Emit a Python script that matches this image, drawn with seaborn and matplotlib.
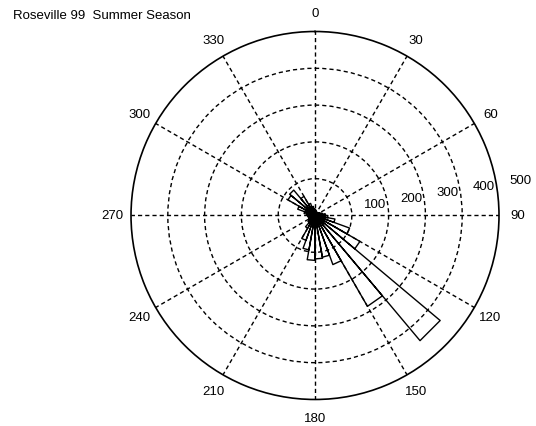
"""
Rose (wind direction) plot for the Roseville 99 summer season,
redrawn in the style of a MATLAB polar/rose figure.
"""

import numpy as np
import pandas as pd
import matplotlib
matplotlib.use('Agg')
import matplotlib.pyplot as plt
import seaborn as sns

# Chart text
title = 'Roseville 99  Summer Season'

# 10 degree direction bins (compass bearing, clockwise from north)
bin_width = 10
bin_starts = list(range(0, 360, bin_width))
counts = [15, 12, 10, 10, 10, 12, 15, 20, 28,
          35, 55, 100, 141, 444, 285, 142, 115, 118,
          122, 95, 72, 40, 25, 20, 18, 18, 20,
          22, 30, 50, 85, 90, 60, 35, 25, 18]

# Grid / tick labels
ring_values = [100, 200, 300, 400, 500]
spoke_angles = list(range(0, 360, 30))


def rose_outline(starts, values, width):
    """Build the closed outline of a MATLAB-like rose: centre -> corner -> corner -> centre."""
    theta, r = [], []
    for start, value in zip(starts, values):
        lo = np.deg2rad(start)
        hi = np.deg2rad(start + width)
        theta += [lo, lo, hi, hi]
        r += [0, value, value, 0]
    return pd.DataFrame({'theta': theta, 'r': r})


sns.set_theme(style='white')
plt.rcParams['font.family'] = ['Liberation Sans', 'DejaVu Sans']

rose = rose_outline(bin_starts, counts, bin_width)
rmax = ring_values[-1]

fig = plt.figure(figsize=(5.36, 4.27), dpi=100)
ax = fig.add_axes([0.2444, 0.0621, 0.6866, 0.8618], projection='polar')
ax.set_theta_zero_location('N')
ax.set_theta_direction(-1)

sns.lineplot(data=rose, x='theta', y='r', sort=False, estimator=None,
             color='black', lw=1.0, ax=ax)

ax.set_ylim(0, rmax)
ax.set_yticks(ring_values[:-1])
ax.set_yticklabels([])
ax.set_xticks(np.deg2rad(spoke_angles))
ax.set_xticklabels([])
ax.set_xlabel('')
ax.set_ylabel('')
ax.grid(True, color='black', lw=1.0, linestyle=(0, (3.0, 2.2)))
ax.set_axisbelow(True)
ax.spines['polar'].set_color('black')
ax.spines['polar'].set_linewidth(1.2)

# Angle labels outside the circle
for a in spoke_angles:
    ax.text(np.deg2rad(a), 1.1 * rmax, str(a), ha='center', va='center',
            fontsize=9.5, color='black')

# Radial labels just above the 90 degree spoke
for v in ring_values:
    ax.text(np.deg2rad(80.5), v + 35, str(v), ha='left', va='baseline',
            fontsize=9.5, color='black')

fig.text(13 / 536, 1 - 16 / 427, title, ha='left', va='center',
         fontsize=9.5, color='black')

fig.savefig('out.png', dpi=100, facecolor='white')
plt.close(fig)
